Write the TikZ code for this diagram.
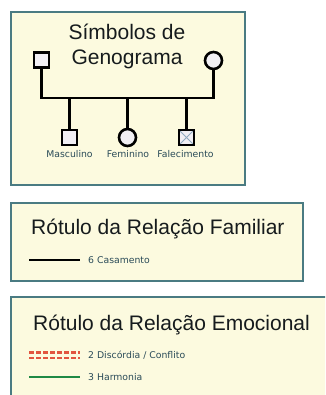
\documentclass[tikz,border=0pt]{standalone}
\usepackage{fontspec}
\usetikzlibrary{calc}
\setmainfont{Liberation Sans}
\newfontfamily\smallfont{DejaVu Sans}
\definecolor{boxfill}{HTML}{FCFADF}
\definecolor{boxborder}{HTML}{4A7B82}
\definecolor{labeltext}{HTML}{2A4B58}
\definecolor{titletext}{HTML}{161B1D}
\definecolor{symfill}{HTML}{F1EFF4}
\definecolor{crosscol}{HTML}{8FA9C0}
\definecolor{conflict}{HTML}{E2553F}
\definecolor{harmony}{HTML}{1F8A45}
\begin{document}
\begin{tikzpicture}[x=1pt,y=-1pt,
  legendbox/.style={draw=boxborder,fill=boxfill,line width=1.8pt},
  maletype/.style={draw=black,fill=symfill,line width=2.6pt,minimum size=15pt,inner sep=0pt,rectangle},
  femaletype/.style={draw=black,fill=symfill,line width=2.6pt,minimum size=17pt,inner sep=0pt,circle},
  kinline/.style={draw=black,line width=2.8pt},
  bigtitle/.style={font=\fontsize{21}{25}\selectfont,text=titletext,inner sep=0pt},
  symlabel/.style={font=\smallfont\fontsize{9.3}{11}\selectfont,text=labeltext,inner sep=0pt}
]
\clip (0,0) rectangle (325,395);
\useasboundingbox (0,0) rectangle (325,395);
\fill[white] (0,0) rectangle (325,395);

% Box 1: genogram symbols
\draw[legendbox] (11,12) rectangle (245,185);
\node[bigtitle,anchor=base] (t1a) at (127,40) {Símbolos de};
\node[bigtitle,anchor=base] (t1b) at (127,65) {Genograma};

\node[maletype] (father) at (41.5,60) {};
\node[femaletype] (mother) at (213.5,60.5) {};
\coordinate (barL) at (41.5,98);
\coordinate (barR) at (213.5,98);
\draw[kinline] (father.south) -- (barL) -- (barR) -- (mother.south);

\node[maletype] (son) at (69.5,137.5) {};
\node[femaletype] (daughter) at (127.5,137.5) {};
\node[maletype] (dead) at (186.5,137.5) {};
\draw[crosscol,line width=0.8pt] ($(dead.north west)+(2,2)$) -- ($(dead.south east)+(-2,-2)$);
\draw[crosscol,line width=0.8pt] ($(dead.north east)+(-2,2)$) -- ($(dead.south west)+(2,-2)$);
\node[maletype,fill=none] (deadframe) at (186.5,137.5) {};

\draw[kinline] (son.north |- barL) -- (son.north);
\draw[kinline] (daughter.north |- barL) -- (daughter.north);
\draw[kinline] (dead.north |- barL) -- (dead.north);

\node[symlabel,anchor=base] (lson) at (69.5,158) {Masculino};
\node[symlabel,anchor=base] (ldau) at (128,158) {Feminino};
\node[symlabel,anchor=base] (ldead) at (185.5,158) {Falecimento};

% Box 2: family relation
\draw[legendbox] (11,203) rectangle (303,281);
\node[bigtitle,anchor=base west] (t2) at (31,234) {Rótulo da Relação Familiar};
\coordinate (m1) at (29,260);
\coordinate (m2) at (80,260);
\draw[black,line width=2.8pt] (m1) -- (m2);
\node[symlabel,anchor=west] (lm) at (88,260) {6 Casamento};

% Box 3: emotional relation
\draw[legendbox] (11,297) rectangle (340,410);
\node[bigtitle,anchor=base west] (t3) at (33,330) {Rótulo da Relação Emocional};
\coordinate (c1) at (29,352.5);
\coordinate (c2) at (80,352.5);
\coordinate (c3) at (29,358);
\coordinate (c4) at (80,358);
\draw[conflict,line width=2.4pt,dash pattern=on 5pt off 2pt] (c1) -- (c2);
\draw[conflict,line width=2.4pt,dash pattern=on 5pt off 2pt] (c3) -- (c4);
\node[symlabel,anchor=west] (lc) at (88,355) {2 Discórdia / Conflito};
\coordinate (h1) at (29,377);
\coordinate (h2) at (80,377);
\draw[harmony,line width=2.8pt] (h1) -- (h2);
\node[symlabel,anchor=west] (lh) at (88,377) {3 Harmonia};
\end{tikzpicture}
\end{document}
